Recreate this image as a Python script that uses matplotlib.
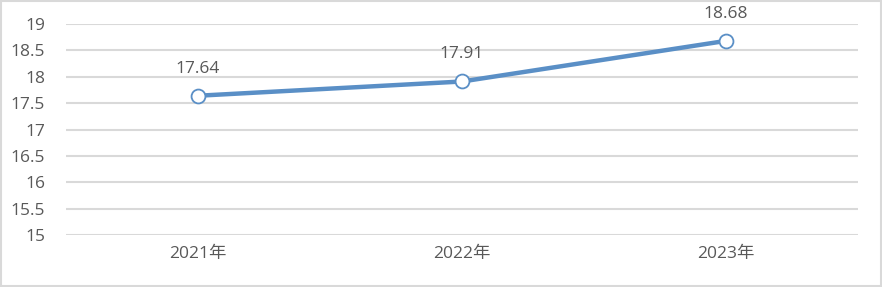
import matplotlib
matplotlib.use("Agg")
import matplotlib.pyplot as plt
from matplotlib.patches import Rectangle

plt.rcParams['font.family'] = ['Open Sans', 'Noto Sans CJK SC', 'DejaVu Sans']

categories = ["2021年", "2022年", "2023年"]
values = [17.64, 17.91, 18.68]
yticks = [15, 15.5, 16, 16.5, 17, 17.5, 18, 18.5, 19]

W, H = 882, 287
fig = plt.figure(figsize=(W/100, H/100), dpi=100)
ax = fig.add_axes([66/W, 1-235/H, (858-66)/W, (235-24)/H])

xs = [i + 0.5 for i in range(len(categories))]
text_color = "#595959"
line_color = "#5a8fc6"

ax.set_xlim(0, 3)
ax.set_ylim(15, 19)
ax.set_yticks(yticks)
ax.set_yticklabels([f"{t:g}" for t in yticks])
ax.set_xticks(xs)
ax.set_xticklabels(categories)
ax.grid(axis='y', color="#d9d9d9", linewidth=1.5)
ax.set_axisbelow(True)
for s in ax.spines.values():
    s.set_visible(False)
ax.tick_params(axis='both', length=0, labelsize=12.5, colors=text_color)
ax.tick_params(axis='y', pad=15)
ax.tick_params(axis='x', pad=8)

ax.plot(xs, values, color=line_color, linewidth=3.2, marker='o', markersize=10,
        markerfacecolor='white', markeredgecolor=line_color, markeredgewidth=1.3,
        solid_capstyle='round', zorder=3)

for x, v in zip(xs, values):
    ax.annotate(f"{v:.2f}", (x, v), xytext=(0, 19.5), textcoords='offset points',
                ha='center', va='center', fontsize=12.5, color=text_color)

fig.patches.append(Rectangle((1/W, 1/H), 1-2/W, 1-2/H, transform=fig.transFigure,
                             fill=False, edgecolor="#d9d9d9", linewidth=1.5))

fig.savefig("out.png", dpi=100)
